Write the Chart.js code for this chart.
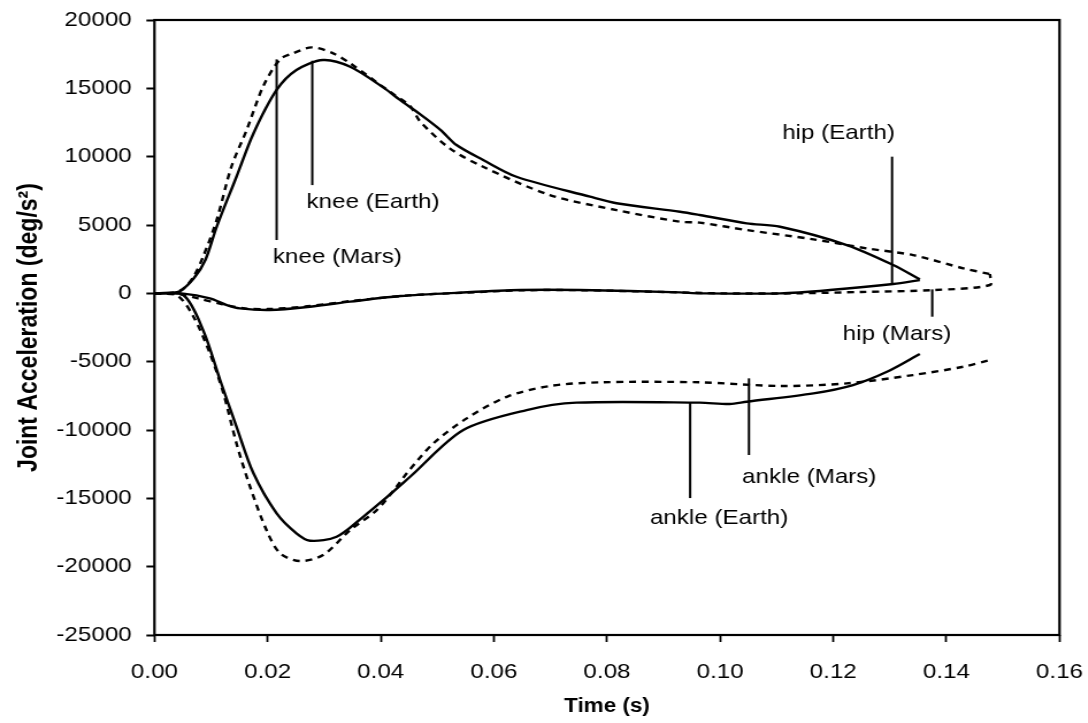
<!DOCTYPE html>
<html><head><meta charset="utf-8">
<script src="https://cdn.jsdelivr.net/npm/chart.js@4.4.1/dist/chart.umd.min.js"></script>
<style>
html,body{margin:0;padding:0;background:#fff;overflow:hidden;}
#wrap{width:1088px;height:723px;overflow:hidden;background:#fff;}
canvas{display:block;transform:scaleX(1.15);transform-origin:0 0;}
</style></head>
<body><div id="wrap"><canvas id="c" width="946" height="723"></canvas></div>
<script>
// ---- data (time in s, joint acceleration in deg/s^2) ----
const kneeEarthT = [0, 0.003, 0.0045, 0.007, 0.009, 0.011, 0.0145, 0.0175, 0.0216, 0.0251, 0.0298, 0.0346, 0.0405, 0.0434, 0.047, 0.0506, 0.0534, 0.0581, 0.064, 0.077, 0.0817, 0.0929, 0.0964, 0.1047, 0.1106, 0.1224, 0.1306, 0.1353];
const kneeEarthV = [0, 30, 150, 1120, 2440, 4870, 8530, 11700, 14880, 16340, 17070, 16580, 15050, 14150, 13100, 11950, 10850, 9760, 8530, 7070, 6590, 5970, 5730, 5120, 4870, 3530, 2070, 1020];

const kneeMarsT = [0, 0.003, 0.005, 0.0069, 0.0086, 0.011, 0.0136, 0.0163, 0.0192, 0.0222, 0.0245, 0.0278, 0.0316, 0.0346, 0.0416, 0.0452, 0.047, 0.0522, 0.0581, 0.0699, 0.0817, 0.0929, 0.0964, 0.1047, 0.1165, 0.1259, 0.1341, 0.143, 0.1477];
const kneeMarsV = [0, 30, 300, 1210, 2680, 5360, 9260, 11950, 15120, 17120, 17560, 18000, 17560, 16830, 14750, 13700, 12560, 10610, 9260, 7190, 6090, 5240, 5170, 4630, 3950, 3290, 2800, 1830, 1410];

const hipEarthT = [0, 0.0051, 0.0098, 0.0128, 0.0151, 0.0204, 0.0275, 0.0346, 0.0435, 0.054, 0.0646, 0.0752, 0.0929, 0.0964, 0.1106, 0.1194, 0.1306, 0.1353];
const hipEarthV = [0, -20, -370, -860, -1100, -1220, -980, -610, -200, 50, 240, 240, 70, 0, 0, 240, 680, 970];

const hipMarsT = [0, 0.005, 0.0077, 0.012, 0.016, 0.02, 0.027, 0.035, 0.045, 0.055, 0.065, 0.075, 0.09, 0.1, 0.1135, 0.125, 0.1377, 0.1477, 0.1477];
const hipMarsV = [0, -100, -370, -800, -1100, -1150, -950, -550, -150, 50, 220, 230, 100, 0, 0, 100, 240, 610, 1410];

const ankleEarthT = [0, 0.0051, 0.0086, 0.0116, 0.0145, 0.0175, 0.0216, 0.0251, 0.0275, 0.0322, 0.0369, 0.0405, 0.0452, 0.0546, 0.0658, 0.0746, 0.0964, 0.1017, 0.1047, 0.1165, 0.1235, 0.1295, 0.1353];
const ankleEarthV = [0, -120, -2690, -6340, -9760, -13170, -16100, -17560, -18100, -17810, -16350, -15120, -13420, -10000, -8540, -8000, -8000, -8100, -7930, -7320, -6710, -5740, -4440];

const ankleMarsT = [0, 0.004, 0.0069, 0.0098, 0.0122, 0.0145, 0.0169, 0.0198, 0.0222, 0.0257, 0.0298, 0.0346, 0.0393, 0.0428, 0.0446, 0.0493, 0.0552, 0.0623, 0.0699, 0.0788, 0.0964, 0.1106, 0.1224, 0.1341, 0.143, 0.1477];
const ankleMarsV = [0, -150, -1710, -4390, -7320, -10980, -14150, -17320, -19020, -19590, -19150, -17320, -15860, -14150, -13170, -10980, -9150, -7570, -6780, -6510, -6510, -6780, -6590, -5980, -5370, -4880];

// axis ticks
const xTickMin = 0, xTickMax = 0.16, xTickStep = 0.02;
const yTickMin = -25000, yTickMax = 20000, yTickStep = 5000;

// annotation labels (anchored in data units)
const noteTexts = ['knee (Mars)', 'knee (Earth)', 'hip (Earth)', 'hip (Mars)', 'ankle (Mars)', 'ankle (Earth)'];
const noteTextT = [0.02095, 0.0269, 0.1309, 0.1409, 0.1039, 0.0876];
const noteTextV = [2680, 6700, 11700, -2980, -13440, -16440];
const noteAlign = ['left', 'left', 'right', 'right', 'left', 'left'];
const noteLineT = [0.0216, 0.0279, 0.1304, 0.1375, 0.1051, 0.0947];
const noteLineFrom = [17120, 17020, 10000, 290, -6220, -7950];
const noteLineTo = [3900, 7920, 680, -1710, -11830, -14980];

// ---- build ----
const pts = (ts, vs) => ts.map((t, i) => ({x: t, y: vs[i]}));
const FONT = '"Liberation Sans", Arial, Helvetica, sans-serif';
const solid = (label, ts, vs) => ({label, data: pts(ts, vs), showLine: true, borderColor: '#000', borderWidth: 2.4, pointRadius: 0, tension: 0.3, fill: false});
const dashed = (label, ts, vs) => ({label, data: pts(ts, vs), showLine: true, borderColor: '#000', borderWidth: 2.4, borderDash: [6, 5], pointRadius: 0, tension: 0.3, fill: false});

const framePlugin = {
  id: 'frame',
  beforeDatasetsDraw(chart) {
    const {ctx, chartArea: a} = chart;
    ctx.save();
    ctx.strokeStyle = '#000';
    ctx.lineWidth = 2.2;
    ctx.strokeRect(a.left, a.top, a.right - a.left, a.bottom - a.top);
    ctx.restore();
  }
};

const notePlugin = {
  id: 'notes',
  afterDatasetsDraw(chart) {
    const {ctx, scales: {x, y}} = chart;
    ctx.save();
    ctx.strokeStyle = '#000';
    ctx.fillStyle = '#000';
    ctx.lineWidth = 2;
    ctx.font = '21px ' + FONT;
    ctx.textBaseline = 'middle';
    noteTexts.forEach((txt, i) => {
      const lx = x.getPixelForValue(noteLineT[i]);
      ctx.beginPath();
      ctx.moveTo(lx, y.getPixelForValue(noteLineFrom[i]));
      ctx.lineTo(lx, y.getPixelForValue(noteLineTo[i]));
      ctx.stroke();
      ctx.textAlign = noteAlign[i];
      ctx.fillText(txt, x.getPixelForValue(noteTextT[i]), y.getPixelForValue(noteTextV[i]));
    });
    ctx.restore();
  }
};

new Chart(document.getElementById('c'), {
  type: 'scatter',
  data: {
    datasets: [
      solid('knee (Earth)', kneeEarthT, kneeEarthV),
      dashed('knee (Mars)', kneeMarsT, kneeMarsV),
      solid('hip (Earth)', hipEarthT, hipEarthV),
      dashed('hip (Mars)', hipMarsT, hipMarsV),
      solid('ankle (Earth)', ankleEarthT, ankleEarthV),
      dashed('ankle (Mars)', ankleMarsT, ankleMarsV)
    ]
  },
  options: {
    responsive: false,
    animation: false,
    devicePixelRatio: 1,
    layout: {padding: {left: 0, right: 24.7, top: 20, bottom: 0}},
    plugins: {legend: {display: false}, tooltip: {enabled: false}},
    scales: {
      x: {
        type: 'linear', min: xTickMin, max: xTickMax,
        border: {display: false},
        grid: {drawOnChartArea: false, drawTicks: true, tickLength: 7, color: '#000', tickWidth: 1.8},
        ticks: {stepSize: xTickStep, color: '#000', padding: 18, maxRotation: 0, font: {family: FONT, size: 21},
          callback: v => Number(v).toFixed(2)},
        title: {display: true, text: 'Time (s)', color: '#000', font: {family: FONT, size: 19.5, weight: 'bold'}, padding: {top: 0, bottom: 5}},
        afterFit(s) { s.height = 88; s.paddingLeft = 0; s.paddingRight = 0; }
      },
      y: {
        type: 'linear', min: yTickMin, max: yTickMax,
        border: {display: false},
        grid: {drawOnChartArea: false, drawTicks: true, tickLength: 7, color: '#000', tickWidth: 2},
        ticks: {stepSize: yTickStep, color: '#000', padding: 12.8, font: {family: FONT, size: 21},
          callback: v => String(v)},
        title: {display: true, text: 'Joint Acceleration (deg/s²)', color: '#000', font: {family: FONT, size: 23, weight: 'bold'}, padding: {top: 11.5, bottom: 0}},
        afterFit(s) { s.width = 134.3; s.paddingTop = 0; s.paddingBottom = 0; }
      }
    }
  },
  plugins: [framePlugin, notePlugin]
});
</script></body></html>
